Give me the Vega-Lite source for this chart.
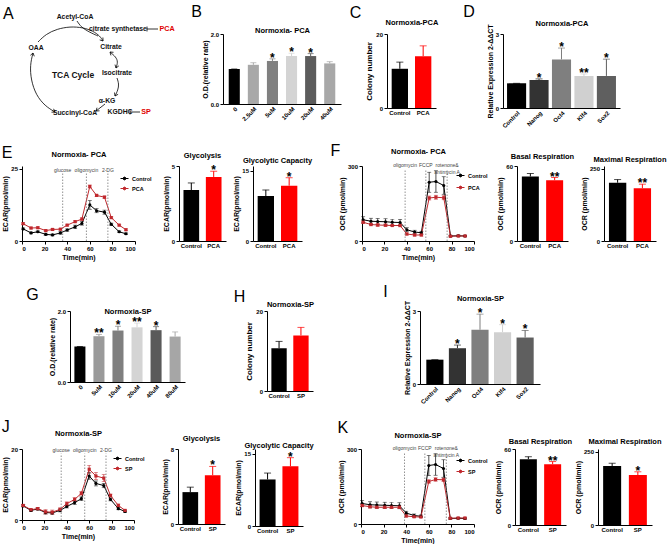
{
"$schema":"https://vega.github.io/schema/vega-lite/v6.json",
"padding":{"left":1,"top":4,"right":3,"bottom":0},
"background":"white",
"config":{
 "font":"Liberation Sans",
 "view":{"stroke":null},
 "axis":{"grid":false,"labelFont":"Liberation Sans","titleFont":"Liberation Sans","labelFontSize":6,"titleFontSize":7,"labelFontWeight":"bold","titleFontWeight":"bold","labelColor":"#000000","titleColor":"#000000","domainColor":"#000000","tickColor":"#000000","tickSize":3,"labelPadding":1.5,"titlePadding":2},
 "title":{"font":"Liberation Sans","fontSize":7.5,"fontWeight":"bold","color":"#000000","offset":6},
 "text":{"font":"Liberation Sans"},
 "legend":{"labelFont":"Liberation Sans"}
},
"spacing":0,
"resolve":{"scale":{"color":"independent"},"legend":{"color":"independent"}},
"vconcat":[
{"spacing":0,"bounds":"flush","resolve":{"scale":{"color":"independent"},"legend":{"color":"independent"}},"hconcat":[
 {"width":160,"height":86,
  "title":{"text":"A","anchor":"start","frame":"group","fontSize":16,"fontWeight":"normal","dx":-19,"offset":0,"dy":7.5},
  "encoding":{"x":{"field":"x","type":"quantitative","scale":{"domain":[22,182]},"axis":null},"y":{"field":"y","type":"quantitative","scale":{"domain":[120,34]},"axis":null}},
  "layer":[
   {"data":{"values":[
    {"p":"a1","i":0,"x":38,"y":42},{"p":"a1","i":1,"x":46,"y":34},{"p":"a1","i":2,"x":57,"y":29},{"p":"a1","i":3,"x":70,"y":26.5},{"p":"a1","i":4,"x":83,"y":27.5},{"p":"a1","i":5,"x":93,"y":31},{"p":"a1","i":6,"x":100,"y":36},{"p":"a1","i":7,"x":103,"y":41},
    {"p":"a2","i":0,"x":77,"y":21},{"p":"a2","i":1,"x":81,"y":27},{"p":"a2","i":2,"x":89,"y":32},{"p":"a2","i":3,"x":98,"y":36},
    {"p":"a3","i":0,"x":110,"y":52},{"p":"a3","i":1,"x":116,"y":57},{"p":"a3","i":2,"x":118,"y":62},{"p":"a3","i":3,"x":116,"y":68},
    {"p":"a4","i":0,"x":117,"y":78},{"p":"a4","i":1,"x":119,"y":84},{"p":"a4","i":2,"x":118,"y":90},{"p":"a4","i":3,"x":115,"y":96},
    {"p":"a5","i":0,"x":105,"y":104},{"p":"a5","i":1,"x":96,"y":111},
    {"p":"a6","i":0,"x":33,"y":53},{"p":"a6","i":1,"x":30,"y":65},{"p":"a6","i":2,"x":31,"y":80},{"p":"a6","i":3,"x":36,"y":95},{"p":"a6","i":4,"x":45,"y":106},{"p":"a6","i":5,"x":55,"y":112}
   ]},
   "mark":{"type":"line","interpolate":"basis","strokeWidth":0.8,"color":"#000000"},
   "encoding":{"detail":{"field":"p"},"order":{"field":"i"}}},
   {"data":{"values":[
    {"p":"h1","i":0,"x":102.9,"y":37.5},{"p":"h1","i":1,"x":103,"y":41},{"p":"h1","i":2,"x":99.7,"y":39.9},
    {"p":"h2","i":0,"x":110.9,"y":55.4},{"p":"h2","i":1,"x":110,"y":52},{"p":"h2","i":2,"x":113.5,"y":52.3},
    {"p":"h3","i":0,"x":118.8,"y":65.9},{"p":"h3","i":1,"x":116,"y":68},{"p":"h3","i":2,"x":115,"y":64.6},
    {"p":"h4","i":0,"x":118.1,"y":94.3},{"p":"h4","i":1,"x":115,"y":96},{"p":"h4","i":2,"x":114.5,"y":92.5},
    {"p":"h5","i":0,"x":99.5,"y":110.8},{"p":"h5","i":1,"x":96,"y":111},{"p":"h5","i":2,"x":97,"y":107.7},
    {"p":"h6","i":0,"x":30.4,"y":55.3},{"p":"h6","i":1,"x":33,"y":53},{"p":"h6","i":2,"x":34.3,"y":56.3},
    {"p":"h7","i":0,"x":53.6,"y":108.8},{"p":"h7","i":1,"x":55,"y":112},{"p":"h7","i":2,"x":51.5,"y":112.2},
    {"p":"i1","i":0,"x":147,"y":29},{"p":"i1","i":1,"x":158,"y":29},
    {"p":"i2","i":0,"x":147,"y":26.5},{"p":"i2","i":1,"x":147,"y":31.5},
    {"p":"i3","i":0,"x":130,"y":112},{"p":"i3","i":1,"x":140,"y":112},
    {"p":"i4","i":0,"x":130,"y":109.5},{"p":"i4","i":1,"x":130,"y":114.5}
   ]},
   "mark":{"type":"line","strokeWidth":0.8,"color":"#000000"},
   "encoding":{"detail":{"field":"p"},"order":{"field":"i"}}},
   {"data":{"values":[
    {"x":75,"y":17,"t":"Acetyl-CoA"},{"x":118,"y":29,"t":"citrate synthetase"},{"x":36,"y":48,"t":"OAA"},{"x":111,"y":47,"t":"Citrate"},{"x":117,"y":73,"t":"Isocitrate"},{"x":107,"y":101,"t":"α-KG"},{"x":75,"y":113,"t":"Succinyl-CoA"},{"x":120,"y":112,"t":"KGDHC"}
   ]},
   "mark":{"type":"text","fontSize":6.8,"fontWeight":"bold","baseline":"middle","color":"#111111"},
   "encoding":{"text":{"field":"t"}}},
   {"data":{"values":[{"x":167,"y":29,"t":"PCA"},{"x":146,"y":112,"t":"SP"}]},
   "mark":{"type":"text","fontSize":7.2,"fontWeight":"bold","baseline":"middle","color":"#e00000"},
   "encoding":{"text":{"field":"t"}}},
   {"data":{"values":[{"x":73,"y":75,"t":"TCA Cycle"}]},
   "mark":{"type":"text","fontSize":8.5,"fontWeight":"bold","baseline":"middle","color":"#111111"},
   "encoding":{"text":{"field":"t"}}}
  ]},
 {"width":41,"height":5,"data":{"values":[{}]},"mark":"text","encoding":{"text":{"value":""}}},
 {"width":118,"height":70,
  "title":{"text":"B","anchor":"start","frame":"bounds","fontSize":16,"fontWeight":"normal","dx":-10,"offset":6},
  "data":{"values":[
   {"g":"0","v":1.0,"hi":1.0,"s":""},{"g":"2.5uM","v":1.12,"hi":1.18,"s":""},{"g":"5uM","v":1.23,"hi":1.29,"s":"*"},{"g":"10uM","v":1.37,"hi":1.45,"s":"*"},{"g":"20uM","v":1.37,"hi":1.44,"s":"*"},{"g":"40uM","v":1.16,"hi":1.21,"s":""}
  ]},
  "resolve":{"axis":{"x":"independent"}},
  "layer":[
   {"mark":"bar","encoding":{
     "x":{"field":"g","type":"nominal","sort":null,"scale":{"paddingInner":0.42,"paddingOuter":0.3},"axis":{"title":null,"labelAngle":-45,"ticks":false}},
     "y":{"field":"v","type":"quantitative","scale":{"domain":[0,2]},"axis":{"values":[0,0.5,1,1.5,2],"format":".1f"},"title":"O.D.(relative rate)"},
     "color":{"field":"g","type":"nominal","sort":null,"scale":{"domain":["0","2.5uM","5uM","10uM","20uM","40uM"],"range":["#000000","#a8a8a8","#808080","#d4d4d4","#5c5c5c","#a8a8a8"]},"legend":null}}},
   {"mark":{"type":"rule","strokeWidth":1},"encoding":{"x":{"field":"g","type":"nominal","sort":null,"axis":null},"y":{"field":"v","type":"quantitative","title":"O.D.(relative rate)"},"y2":{"field":"hi"},"color":{"field":"g","type":"nominal","sort":null,"legend":null}}},
   {"mark":{"type":"tick","thickness":1,"size":6},"encoding":{"x":{"field":"g","type":"nominal","sort":null,"axis":null},"y":{"field":"hi","type":"quantitative","title":"O.D.(relative rate)"},"color":{"field":"g","type":"nominal","sort":null,"legend":null}}},
   {"mark":{"type":"text","fontSize":12,"fontWeight":"bold","baseline":"alphabetic","dy":3},"encoding":{"x":{"field":"g","type":"nominal","sort":null,"axis":{"orient":"top","title":"Normoxia- PCA","labels":false,"ticks":false,"domain":false,"titlePadding":0,"titleFontSize":7.5}},"y":{"field":"hi","type":"quantitative","title":"O.D.(relative rate)"},"text":{"field":"s"}}}
  ]},
 {"width":46,"height":5,"data":{"values":[{}]},"mark":"text","encoding":{"text":{"value":""}}},
 {"width":49,"height":74,
  "title":{"text":"C","anchor":"start","frame":"bounds","fontSize":16,"fontWeight":"normal","dx":-16,"offset":-3},
  "data":{"values":[{"g":"Control","v":10.6,"hi":12.4,"s":""},{"g":"PCA","v":14.0,"hi":16.8,"s":""}]},
  "resolve":{"axis":{"x":"independent"}},
  "layer":[
   {"mark":"bar","encoding":{
     "x":{"field":"g","type":"nominal","sort":null,"scale":{"paddingInner":0.3,"paddingOuter":0.2},"axis":{"title":null,"labelAngle":0,"ticks":false}},
     "y":{"field":"v","type":"quantitative","scale":{"domain":[0,20]},"axis":{"values":[0,5,10,15,20],"titleFontSize":8},"title":"Colony number"},
     "color":{"field":"g","type":"nominal","scale":{"domain":["Control","PCA"],"range":["#000000","#ff0000"]},"legend":null}}},
   {"mark":{"type":"rule","strokeWidth":1},"encoding":{"x":{"field":"g","type":"nominal","sort":null,"axis":null},"y":{"field":"v","type":"quantitative","title":"Colony number"},"y2":{"field":"hi"},"color":{"field":"g","type":"nominal","legend":null}}},
   {"mark":{"type":"tick","thickness":1,"size":7},"encoding":{"x":{"field":"g","type":"nominal","sort":null,"axis":null},"y":{"field":"hi","type":"quantitative","title":"Colony number"},"color":{"field":"g","type":"nominal","legend":null}}},
   {"mark":{"type":"text","fontSize":12,"fontWeight":"bold","baseline":"alphabetic","dy":3},"encoding":{"x":{"field":"g","type":"nominal","sort":null,"axis":{"orient":"top","title":"Normoxia-PCA","labels":false,"ticks":false,"domain":false,"titlePadding":8,"titleFontSize":7.5}},"y":{"field":"hi","type":"quantitative","title":"Colony number"},"text":{"field":"s"}}}
  ]},
 {"width":67,"height":5,"data":{"values":[{}]},"mark":"text","encoding":{"text":{"value":""}}},
 {"width":117,"height":74,
  "title":{"text":"D","anchor":"start","frame":"bounds","fontSize":16,"fontWeight":"normal","dx":-23,"offset":-1},
  "data":{"values":[{"g":"Control","v":1.0,"hi":1.0,"s":""},{"g":"Nanog","v":1.14,"hi":1.18,"s":"*"},{"g":"Oct4","v":1.97,"hi":2.43,"s":"*"},{"g":"Klf4","v":1.3,"hi":1.38,"s":"**"},{"g":"Sox2","v":1.3,"hi":1.98,"s":"*"}]},
  "resolve":{"axis":{"x":"independent"}},
  "layer":[
   {"mark":"bar","encoding":{
     "x":{"field":"g","type":"nominal","sort":null,"scale":{"paddingInner":0.15,"paddingOuter":0.18},"axis":{"title":null,"labelAngle":-45,"ticks":false}},
     "y":{"field":"v","type":"quantitative","scale":{"domain":[0,3]},"axis":{"values":[0,1,2,3]},"title":"Relative Expression 2-ΔΔCT"},
     "color":{"field":"g","type":"nominal","sort":null,"scale":{"domain":["Control","Nanog","Oct4","Klf4","Sox2"],"range":["#000000","#333333","#7f7f7f","#d0d0d0","#5f5f5f"]},"legend":null}}},
   {"mark":{"type":"rule","strokeWidth":1},"encoding":{"x":{"field":"g","type":"nominal","sort":null,"axis":null},"y":{"field":"v","type":"quantitative","title":"Relative Expression 2-ΔΔCT"},"y2":{"field":"hi"},"color":{"field":"g","type":"nominal","sort":null,"legend":null}}},
   {"mark":{"type":"tick","thickness":1,"size":7},"encoding":{"x":{"field":"g","type":"nominal","sort":null,"axis":null},"y":{"field":"hi","type":"quantitative","title":"Relative Expression 2-ΔΔCT"},"color":{"field":"g","type":"nominal","sort":null,"legend":null}}},
   {"mark":{"type":"text","fontSize":12,"fontWeight":"bold","baseline":"alphabetic","dy":3},"encoding":{"x":{"field":"g","type":"nominal","sort":null,"axis":{"orient":"top","title":"Normoxia-PCA","labels":false,"ticks":false,"domain":false,"titlePadding":7,"titleFontSize":7.5}},"y":{"field":"hi","type":"quantitative","title":"Relative Expression 2-ΔΔCT"},"text":{"field":"s"}}}
  ]}
]},
{"width":10,"height":14,"data":{"values":[{}]},"mark":"text","encoding":{"text":{"value":""}}},
{"spacing":0,"bounds":"flush","resolve":{"scale":{"color":"independent"},"legend":{"color":"independent"}},"hconcat":[
 {"width":113,"height":75,
  "title":{"text":"E","anchor":"start","frame":"bounds","fontSize":16,"fontWeight":"normal","offset":0,"dy":10.5},
  "data":{"values":[
   {"t":1,"g":"Control","v":4.2,"lo":3.9,"hi":4.5},{"t":8,"g":"Control","v":2.8,"lo":2.5,"hi":3.1},{"t":14,"g":"Control","v":3.2,"lo":2.9,"hi":3.5},{"t":21,"g":"Control","v":2.3,"lo":1.9,"hi":2.7},{"t":27,"g":"Control","v":2.1,"lo":1.8,"hi":2.4},{"t":34,"g":"Control","v":2.8,"lo":2.4,"hi":3.2},{"t":40,"g":"Control","v":3.8,"lo":3.4,"hi":4.2},{"t":47,"g":"Control","v":4.9,"lo":4.3,"hi":5.5},{"t":53,"g":"Control","v":6.1,"lo":5.5,"hi":6.7},{"t":60,"g":"Control","v":12.5,"lo":11.0,"hi":14.0},{"t":66,"g":"Control","v":10.5,"lo":9.8,"hi":11.2},{"t":73,"g":"Control","v":10.0,"lo":9.3,"hi":10.7},{"t":79,"g":"Control","v":5.8,"lo":5.4,"hi":6.2},{"t":86,"g":"Control","v":3.2,"lo":2.9,"hi":3.5},{"t":92,"g":"Control","v":2.5,"lo":2.2,"hi":2.8},
   {"t":1,"g":"PCA","v":6.0,"lo":5.7,"hi":6.3},{"t":8,"g":"PCA","v":4.5,"lo":4.2,"hi":4.8},{"t":14,"g":"PCA","v":4.6,"lo":4.3,"hi":4.9},{"t":21,"g":"PCA","v":3.6,"lo":3.3,"hi":3.9},{"t":27,"g":"PCA","v":4.0,"lo":3.7,"hi":4.3},{"t":34,"g":"PCA","v":4.1,"lo":3.8,"hi":4.4},{"t":40,"g":"PCA","v":5.5,"lo":5.2,"hi":5.8},{"t":47,"g":"PCA","v":6.7,"lo":6.4,"hi":7.0},{"t":53,"g":"PCA","v":7.6,"lo":7.2,"hi":8.0},{"t":60,"g":"PCA","v":18.9,"lo":18.4,"hi":19.4},{"t":66,"g":"PCA","v":15.8,"lo":15.4,"hi":16.2},{"t":73,"g":"PCA","v":15.2,"lo":14.8,"hi":15.6},{"t":79,"g":"PCA","v":8.1,"lo":7.8,"hi":8.4},{"t":86,"g":"PCA","v":5.5,"lo":5.2,"hi":5.8},{"t":92,"g":"PCA","v":3.9,"lo":3.6,"hi":4.2}
  ]},
  "resolve":{"axis":{"x":"independent"}},
  "layer":[
   {"mark":{"type":"line","strokeWidth":1},"encoding":{"x":{"field":"t","type":"quantitative","scale":{"domain":[0,100]},"axis":{"values":[0,20,40,60,80,100],"title":"Time(min)"}},"y":{"field":"v","type":"quantitative","scale":{"domain":[0,25]},"axis":{"values":[0,5,10,15,20,25]},"title":"ECAR(pmol/min)"},"color":{"field":"g","type":"nominal","scale":{"domain":["Control","PCA"],"range":["#000000","#c0282d"]},"legend":{"orient":"none","legendX":98,"legendY":8,"title":null,"padding":0,"labelFontSize":5.5,"labelFontWeight":"bold","labelColor":"#000000","symbolType":"M-1,0H1M0.35,0A0.35,0.35,0,1,1,-0.35,0A0.35,0.35,0,1,1,0.35,0Z","symbolSize":64,"symbolStrokeWidth":1,"rowPadding":2,"labelOffset":3}}}},
   {"mark":{"type":"rule","strokeWidth":0.7},"encoding":{"x":{"field":"t","type":"quantitative","axis":null},"y":{"field":"lo","type":"quantitative","title":"ECAR(pmol/min)"},"y2":{"field":"hi"},"color":{"field":"g","type":"nominal","legend":null}}},
   {"mark":{"type":"tick","orient":"horizontal","size":4,"thickness":0.7},"encoding":{"x":{"field":"t","type":"quantitative","axis":null},"y":{"field":"hi","type":"quantitative","title":"ECAR(pmol/min)"},"color":{"field":"g","type":"nominal","legend":null}}},
   {"mark":{"type":"tick","orient":"horizontal","size":4,"thickness":0.7},"encoding":{"x":{"field":"t","type":"quantitative","axis":null},"y":{"field":"lo","type":"quantitative","title":"ECAR(pmol/min)"},"color":{"field":"g","type":"nominal","legend":null}}},
   {"transform":[{"filter":"datum.g == 'Control'"}],"mark":{"type":"point","filled":true,"size":10,"opacity":1,"shape":"circle"},"encoding":{"x":{"field":"t","type":"quantitative","axis":null},"y":{"field":"v","type":"quantitative","title":"ECAR(pmol/min)"},"color":{"field":"g","type":"nominal","legend":null}}},
   {"transform":[{"filter":"datum.g != 'Control'"}],"mark":{"type":"point","filled":true,"size":10,"opacity":1,"shape":"square"},"encoding":{"x":{"field":"t","type":"quantitative","axis":null},"y":{"field":"v","type":"quantitative","title":"ECAR(pmol/min)"},"color":{"field":"g","type":"nominal","legend":null}}},
   {"data":{"values":[{"t":36,"lab":"glucose"},{"t":57,"lab":"oligomycin"},{"t":76,"lab":"2-DG"}]},"mark":{"type":"rule","strokeDash":[1.5,1.5],"color":"#777777","strokeWidth":0.8},"encoding":{"x":{"field":"t","type":"quantitative","axis":null},"y":{"datum":0},"y2":{"datum":23.5}}},
   {"data":{"values":[{"t":36,"lab":"glucose"},{"t":57,"lab":"oligomycin"},{"t":76,"lab":"2-DG"}]},"mark":{"type":"text","fontSize":5,"color":"#444444","baseline":"middle"},"encoding":{"x":{"field":"t","type":"quantitative","axis":{"orient":"top","title":"Normoxia- PCA","labels":false,"ticks":false,"domain":false,"titlePadding":7.5,"titleFontSize":7.5}},"y":{"datum":24.6},"text":{"field":"lab"}}}
  ]},
 {"width":44,"height":5,"data":{"values":[{}]},"mark":"text","encoding":{"text":{"value":""}}},
 {"width":47,"height":75,"title":{"text":"Glycolysis","offset":4},
  "data":{"values":[{"g":"Control","v":3.4,"hi":3.87,"s":""},{"g":"PCA","v":4.27,"hi":4.65,"s":"*"}]},
  "encoding":{"x":{"field":"g","type":"nominal","sort":null,"scale":{"paddingInner":0.3,"paddingOuter":0.2},"axis":{"title":null,"labelAngle":0,"ticks":false}}},
  "layer":[
   {"mark":"bar","encoding":{"y":{"field":"v","type":"quantitative","scale":{"domain":[0,5]},"axis":{"values":[0,1,2,3,4,5]},"title":"ECAR(pmol/min)"},"color":{"field":"g","type":"nominal","scale":{"domain":["Control","PCA"],"range":["#000000","#ff0000"]},"legend":null}}},
   {"mark":{"type":"rule","strokeWidth":1},"encoding":{"y":{"field":"v","type":"quantitative","title":"ECAR(pmol/min)"},"y2":{"field":"hi"},"color":{"field":"g","type":"nominal","legend":null}}},
   {"mark":{"type":"tick","thickness":1,"size":7},"encoding":{"y":{"field":"hi","type":"quantitative","title":"ECAR(pmol/min)"},"color":{"field":"g","type":"nominal","legend":null}}},
   {"mark":{"type":"text","fontSize":12,"fontWeight":"bold","baseline":"alphabetic","dy":3},"encoding":{"y":{"field":"hi","type":"quantitative","title":"ECAR(pmol/min)"},"text":{"field":"s"}}}
  ]},
 {"width":27,"height":5,"data":{"values":[{}]},"mark":"text","encoding":{"text":{"value":""}}},
 {"width":49,"height":75,"title":{"text":"Glycolytic Capacity","offset":2},
  "data":{"values":[{"g":"Control","v":9.6,"hi":10.9,"s":""},{"g":"PCA","v":11.8,"hi":13.5,"s":"*"}]},
  "encoding":{"x":{"field":"g","type":"nominal","sort":null,"scale":{"paddingInner":0.3,"paddingOuter":0.2},"axis":{"title":null,"labelAngle":0,"ticks":false}}},
  "layer":[
   {"mark":"bar","encoding":{"y":{"field":"v","type":"quantitative","scale":{"domain":[0,15]},"axis":{"values":[0,5,10,15]},"title":"ECAR(pmol/min)"},"color":{"field":"g","type":"nominal","scale":{"domain":["Control","PCA"],"range":["#000000","#ff0000"]},"legend":null}}},
   {"mark":{"type":"rule","strokeWidth":1},"encoding":{"y":{"field":"v","type":"quantitative","title":"ECAR(pmol/min)"},"y2":{"field":"hi"},"color":{"field":"g","type":"nominal","legend":null}}},
   {"mark":{"type":"tick","thickness":1,"size":7},"encoding":{"y":{"field":"hi","type":"quantitative","title":"ECAR(pmol/min)"},"color":{"field":"g","type":"nominal","legend":null}}},
   {"mark":{"type":"text","fontSize":12,"fontWeight":"bold","baseline":"alphabetic","dy":3},"encoding":{"y":{"field":"hi","type":"quantitative","title":"ECAR(pmol/min)"},"text":{"field":"s"}}}
  ]},
 {"width":60,"height":5,"data":{"values":[{}]},"mark":"text","encoding":{"text":{"value":""}}},
 {"width":112,"height":75,
  "title":{"text":"F","anchor":"start","frame":"bounds","fontSize":16,"fontWeight":"normal","offset":0,"dx":-8,"dy":11.5},
  "data":{"values":[
   {"t":1,"g":"Control","v":85,"lo":73,"hi":97},{"t":8,"g":"Control","v":79,"lo":67,"hi":91},{"t":14,"g":"Control","v":78,"lo":66,"hi":90},{"t":21,"g":"Control","v":77,"lo":65,"hi":89},{"t":27,"g":"Control","v":75,"lo":63,"hi":87},{"t":34,"g":"Control","v":74,"lo":62,"hi":86},{"t":40,"g":"Control","v":45,"lo":37,"hi":53},{"t":47,"g":"Control","v":36,"lo":29,"hi":43},{"t":53,"g":"Control","v":33,"lo":27,"hi":39},{"t":60,"g":"Control","v":235,"lo":195,"hi":275},{"t":66,"g":"Control","v":238,"lo":195,"hi":281},{"t":73,"g":"Control","v":222,"lo":187,"hi":257},{"t":79,"g":"Control","v":20,"lo":17,"hi":23},{"t":86,"g":"Control","v":21,"lo":18,"hi":24},{"t":92,"g":"Control","v":20,"lo":17,"hi":23},
   {"t":1,"g":"PCA","v":75,"lo":70,"hi":80},{"t":8,"g":"PCA","v":66,"lo":61,"hi":71},{"t":14,"g":"PCA","v":64,"lo":59,"hi":69},{"t":21,"g":"PCA","v":63,"lo":58,"hi":68},{"t":27,"g":"PCA","v":62,"lo":57,"hi":67},{"t":34,"g":"PCA","v":62,"lo":57,"hi":67},{"t":40,"g":"PCA","v":28,"lo":24,"hi":32},{"t":47,"g":"PCA","v":24,"lo":20,"hi":28},{"t":53,"g":"PCA","v":24,"lo":20,"hi":28},{"t":60,"g":"PCA","v":172,"lo":164,"hi":180},{"t":66,"g":"PCA","v":175,"lo":167,"hi":183},{"t":73,"g":"PCA","v":173,"lo":165,"hi":181},{"t":79,"g":"PCA","v":19,"lo":16,"hi":22},{"t":86,"g":"PCA","v":20,"lo":17,"hi":23},{"t":92,"g":"PCA","v":20,"lo":17,"hi":23}
  ]},
  "resolve":{"axis":{"x":"independent"}},
  "layer":[
   {"mark":{"type":"line","strokeWidth":1},"encoding":{"x":{"field":"t","type":"quantitative","scale":{"domain":[0,100]},"axis":{"values":[0,20,40,60,80,100],"title":"Time(min)"}},"y":{"field":"v","type":"quantitative","scale":{"domain":[0,300]},"axis":{"values":[0,100,200,300]},"title":"OCR (pmol/min)"},"color":{"field":"g","type":"nominal","scale":{"domain":["Control","PCA"],"range":["#000000","#c0282d"]},"legend":{"orient":"none","legendX":94,"legendY":5,"title":null,"padding":0,"labelFontSize":5.5,"labelFontWeight":"bold","labelColor":"#000000","symbolType":"M-1,0H1M0.35,0A0.35,0.35,0,1,1,-0.35,0A0.35,0.35,0,1,1,0.35,0Z","symbolSize":64,"symbolStrokeWidth":1,"rowPadding":4,"labelOffset":3}}}},
   {"mark":{"type":"rule","strokeWidth":0.7},"encoding":{"x":{"field":"t","type":"quantitative","axis":null},"y":{"field":"lo","type":"quantitative","title":"OCR (pmol/min)"},"y2":{"field":"hi"},"color":{"field":"g","type":"nominal","legend":null}}},
   {"mark":{"type":"tick","orient":"horizontal","size":4,"thickness":0.7},"encoding":{"x":{"field":"t","type":"quantitative","axis":null},"y":{"field":"hi","type":"quantitative","title":"OCR (pmol/min)"},"color":{"field":"g","type":"nominal","legend":null}}},
   {"mark":{"type":"tick","orient":"horizontal","size":4,"thickness":0.7},"encoding":{"x":{"field":"t","type":"quantitative","axis":null},"y":{"field":"lo","type":"quantitative","title":"OCR (pmol/min)"},"color":{"field":"g","type":"nominal","legend":null}}},
   {"transform":[{"filter":"datum.g == 'Control'"}],"mark":{"type":"point","filled":true,"size":10,"opacity":1,"shape":"circle"},"encoding":{"x":{"field":"t","type":"quantitative","axis":null},"y":{"field":"v","type":"quantitative","title":"OCR (pmol/min)"},"color":{"field":"g","type":"nominal","legend":null}}},
   {"transform":[{"filter":"datum.g != 'Control'"}],"mark":{"type":"point","filled":true,"size":10,"opacity":1,"shape":"square"},"encoding":{"x":{"field":"t","type":"quantitative","axis":null},"y":{"field":"v","type":"quantitative","title":"OCR (pmol/min)"},"color":{"field":"g","type":"nominal","legend":null}}},
   {"data":{"values":[{"t":38.5,"lab":"oligomycin"},{"t":57,"lab":"FCCP"},{"t":76,"lab":"rotenone&\nantimycin A"}]},"mark":{"type":"rule","strokeDash":[1.5,1.5],"color":"#777777","strokeWidth":0.8},"encoding":{"x":{"field":"t","type":"quantitative","axis":null},"y":{"datum":0},"y2":{"datum":288}}},
   {"data":{"values":[{"t":38.5,"lab":"oligomycin"},{"t":57,"lab":"FCCP"},{"t":76,"lab":"rotenone&\nantimycin A"}]},"mark":{"type":"text","fontSize":5,"color":"#444444","baseline":"bottom","lineBreak":"\n"},"encoding":{"x":{"field":"t","type":"quantitative","axis":{"orient":"top","title":"Normoxia- PCA","labels":false,"ticks":false,"domain":false,"titlePadding":10.5,"titleFontSize":7.5}},"y":{"datum":294},"text":{"field":"lab"}}}
  ]},
 {"width":43,"height":5,"data":{"values":[{}]},"mark":"text","encoding":{"text":{"value":""}}},
 {"width":51,"height":75,"title":{"text":"Basal Respiration","offset":3},
  "data":{"values":[{"g":"Control","v":51.6,"hi":54,"s":""},{"g":"PCA","v":48.7,"hi":50.8,"s":"**"}]},
  "encoding":{"x":{"field":"g","type":"nominal","sort":null,"scale":{"paddingInner":0.3,"paddingOuter":0.2},"axis":{"title":null,"labelAngle":0,"ticks":false}}},
  "layer":[
   {"mark":"bar","encoding":{"y":{"field":"v","type":"quantitative","scale":{"domain":[0,60]},"axis":{"values":[0,20,40,60]},"title":"OCR (pmol/min)"},"color":{"field":"g","type":"nominal","scale":{"domain":["Control","PCA"],"range":["#000000","#ff0000"]},"legend":null}}},
   {"mark":{"type":"rule","strokeWidth":1},"encoding":{"y":{"field":"v","type":"quantitative","title":"OCR (pmol/min)"},"y2":{"field":"hi"},"color":{"field":"g","type":"nominal","legend":null}}},
   {"mark":{"type":"tick","thickness":1,"size":7},"encoding":{"y":{"field":"hi","type":"quantitative","title":"OCR (pmol/min)"},"color":{"field":"g","type":"nominal","legend":null}}},
   {"mark":{"type":"text","fontSize":12,"fontWeight":"bold","baseline":"alphabetic","dy":3},"encoding":{"y":{"field":"hi","type":"quantitative","title":"OCR (pmol/min)"},"text":{"field":"s"}}}
  ]},
 {"width":36,"height":5,"data":{"values":[{}]},"mark":"text","encoding":{"text":{"value":""}}},
 {"width":52,"height":75,"title":{"text":"Maximal Respiration","offset":2},
  "data":{"values":[{"g":"Control","v":202,"hi":213,"s":""},{"g":"PCA","v":183,"hi":197,"s":"**"}]},
  "encoding":{"x":{"field":"g","type":"nominal","sort":null,"scale":{"paddingInner":0.3,"paddingOuter":0.2},"axis":{"title":null,"labelAngle":0,"ticks":false}}},
  "layer":[
   {"mark":"bar","encoding":{"y":{"field":"v","type":"quantitative","scale":{"domain":[0,250]},"axis":{"values":[0,50,100,150,200,250]},"title":"OCR (pmol/min)"},"color":{"field":"g","type":"nominal","scale":{"domain":["Control","PCA"],"range":["#000000","#ff0000"]},"legend":null}}},
   {"mark":{"type":"rule","strokeWidth":1},"encoding":{"y":{"field":"v","type":"quantitative","title":"OCR (pmol/min)"},"y2":{"field":"hi"},"color":{"field":"g","type":"nominal","legend":null}}},
   {"mark":{"type":"tick","thickness":1,"size":7},"encoding":{"y":{"field":"hi","type":"quantitative","title":"OCR (pmol/min)"},"color":{"field":"g","type":"nominal","legend":null}}},
   {"mark":{"type":"text","fontSize":12,"fontWeight":"bold","baseline":"alphabetic","dy":3},"encoding":{"y":{"field":"hi","type":"quantitative","title":"OCR (pmol/min)"},"text":{"field":"s"}}}
  ]}
]},
{"width":10,"height":23,"data":{"values":[{}]},"mark":"text","encoding":{"text":{"value":""}}},
{"spacing":0,"bounds":"flush","resolve":{"scale":{"color":"independent"},"legend":{"color":"independent"}},"hconcat":[
 {"width":48,"height":5,"data":{"values":[{}]},"mark":"text","encoding":{"text":{"value":""}}},
 {"width":115,"height":71,
  "title":{"text":"G","anchor":"start","frame":"bounds","fontSize":16,"fontWeight":"normal","dx":-22,"offset":4},
  "data":{"values":[{"g":"0","v":1.0,"hi":1.0,"s":""},{"g":"5uM","v":1.29,"hi":1.34,"s":"**"},{"g":"10uM","v":1.45,"hi":1.57,"s":"*"},{"g":"20uM","v":1.54,"hi":1.66,"s":"**"},{"g":"40uM","v":1.46,"hi":1.56,"s":"*"},{"g":"80uM","v":1.28,"hi":1.41,"s":""}]},
  "resolve":{"axis":{"x":"independent"}},
  "layer":[
   {"mark":"bar","encoding":{
     "x":{"field":"g","type":"nominal","sort":null,"scale":{"paddingInner":0.42,"paddingOuter":0.23},"axis":{"title":null,"labelAngle":-45,"ticks":false}},
     "y":{"field":"v","type":"quantitative","scale":{"domain":[0,2]},"axis":{"values":[0,0.5,1,1.5,2],"format":".1f"},"title":"O.D.(relative rate)"},
     "color":{"field":"g","type":"nominal","sort":null,"scale":{"domain":["0","5uM","10uM","20uM","40uM","80uM"],"range":["#000000","#9a9a9a","#7f7f7f","#d4d4d4","#5a5a5a","#a6a6a6"]},"legend":null}}},
   {"mark":{"type":"rule","strokeWidth":1},"encoding":{"x":{"field":"g","type":"nominal","sort":null,"axis":null},"y":{"field":"v","type":"quantitative","title":"O.D.(relative rate)"},"y2":{"field":"hi"},"color":{"field":"g","type":"nominal","sort":null,"legend":null}}},
   {"mark":{"type":"tick","thickness":1,"size":6},"encoding":{"x":{"field":"g","type":"nominal","sort":null,"axis":null},"y":{"field":"hi","type":"quantitative","title":"O.D.(relative rate)"},"color":{"field":"g","type":"nominal","sort":null,"legend":null}}},
   {"mark":{"type":"text","fontSize":12,"fontWeight":"bold","baseline":"alphabetic","dy":3},"encoding":{"x":{"field":"g","type":"nominal","sort":null,"axis":{"orient":"top","title":"Normoxia-SP","labels":false,"ticks":false,"domain":false,"titlePadding":-4,"titleFontSize":7.5}},"y":{"field":"hi","type":"quantitative","title":"O.D.(relative rate)"},"text":{"field":"s"}}}
  ]},
 {"width":82,"height":5,"data":{"values":[{}]},"mark":"text","encoding":{"text":{"value":""}}},
 {"width":46,"height":80,
  "title":{"text":"H","anchor":"start","frame":"bounds","fontSize":16,"fontWeight":"normal","dx":-12,"offset":-4.5},
  "data":{"values":[{"g":"Control","v":10.7,"hi":12.4,"s":""},{"g":"SP","v":13.9,"hi":15.9,"s":""}]},
  "resolve":{"axis":{"x":"independent"}},
  "layer":[
   {"mark":"bar","encoding":{
     "x":{"field":"g","type":"nominal","sort":null,"scale":{"paddingInner":0.3,"paddingOuter":0.2},"axis":{"title":null,"labelAngle":0,"ticks":false}},
     "y":{"field":"v","type":"quantitative","scale":{"domain":[0,20]},"axis":{"values":[0,5,10,15,20],"titleFontSize":8},"title":"Colony number"},
     "color":{"field":"g","type":"nominal","scale":{"domain":["Control","SP"],"range":["#000000","#ff0000"]},"legend":null}}},
   {"mark":{"type":"rule","strokeWidth":1},"encoding":{"x":{"field":"g","type":"nominal","sort":null,"axis":null},"y":{"field":"v","type":"quantitative","title":"Colony number"},"y2":{"field":"hi"},"color":{"field":"g","type":"nominal","legend":null}}},
   {"mark":{"type":"tick","thickness":1,"size":7},"encoding":{"x":{"field":"g","type":"nominal","sort":null,"axis":null},"y":{"field":"hi","type":"quantitative","title":"Colony number"},"color":{"field":"g","type":"nominal","legend":null}}},
   {"mark":{"type":"text","fontSize":12,"fontWeight":"bold","baseline":"alphabetic","dy":3},"encoding":{"x":{"field":"g","type":"nominal","sort":null,"axis":{"orient":"top","title":"Normoxia-SP","labels":false,"ticks":false,"domain":false,"titlePadding":2.5,"titleFontSize":7.5}},"y":{"field":"hi","type":"quantitative","title":"Colony number"},"text":{"field":"s"}}}
  ]},
 {"width":107,"height":5,"data":{"values":[{}]},"mark":"text","encoding":{"text":{"value":""}}},
 {"width":120,"height":73,
  "title":{"text":"I","anchor":"start","frame":"bounds","fontSize":16,"fontWeight":"normal","dx":-20,"offset":-5.5},
  "data":{"values":[{"g":"Control","v":1.0,"hi":1.0,"s":""},{"g":"Nanog","v":1.47,"hi":1.6,"s":"*"},{"g":"Oct4","v":2.23,"hi":2.87,"s":"*"},{"g":"Klf4","v":2.13,"hi":2.44,"s":"*"},{"g":"Sox2","v":1.91,"hi":2.2,"s":"*"}]},
  "resolve":{"axis":{"x":"independent"}},
  "layer":[
   {"mark":"bar","encoding":{
     "x":{"field":"g","type":"nominal","sort":null,"scale":{"paddingInner":0.24,"paddingOuter":0.28},"axis":{"title":null,"labelAngle":-45,"ticks":false}},
     "y":{"field":"v","type":"quantitative","scale":{"domain":[0,3]},"axis":{"values":[0,1,2,3]},"title":"Relative Expression 2-ΔΔCT"},
     "color":{"field":"g","type":"nominal","sort":null,"scale":{"domain":["Control","Nanog","Oct4","Klf4","Sox2"],"range":["#000000","#333333","#7f7f7f","#d0d0d0","#5f5f5f"]},"legend":null}}},
   {"mark":{"type":"rule","strokeWidth":1},"encoding":{"x":{"field":"g","type":"nominal","sort":null,"axis":null},"y":{"field":"v","type":"quantitative","title":"Relative Expression 2-ΔΔCT"},"y2":{"field":"hi"},"color":{"field":"g","type":"nominal","sort":null,"legend":null}}},
   {"mark":{"type":"tick","thickness":1,"size":7},"encoding":{"x":{"field":"g","type":"nominal","sort":null,"axis":null},"y":{"field":"hi","type":"quantitative","title":"Relative Expression 2-ΔΔCT"},"color":{"field":"g","type":"nominal","sort":null,"legend":null}}},
   {"mark":{"type":"text","fontSize":12,"fontWeight":"bold","baseline":"alphabetic","dy":3},"encoding":{"x":{"field":"g","type":"nominal","sort":null,"axis":{"orient":"top","title":"Normoxia-SP","labels":false,"ticks":false,"domain":false,"titlePadding":8.5,"titleFontSize":7.5}},"y":{"field":"hi","type":"quantitative","title":"Relative Expression 2-ΔΔCT"},"text":{"field":"s"}}}
  ]}
]},
{"width":10,"height":14,"data":{"values":[{}]},"mark":"text","encoding":{"text":{"value":""}}},
{"spacing":0,"bounds":"flush","resolve":{"scale":{"color":"independent"},"legend":{"color":"independent"}},"hconcat":[
 {"width":112,"height":71,
  "title":{"text":"J","anchor":"start","frame":"bounds","fontSize":16,"fontWeight":"normal","offset":0,"dy":5.5},
  "data":{"values":[
   {"t":1,"g":"Control","v":4.0,"lo":3.7,"hi":4.3},{"t":8,"g":"Control","v":2.7,"lo":2.4,"hi":3.0},{"t":14,"g":"Control","v":3.1,"lo":2.8,"hi":3.4},{"t":21,"g":"Control","v":2.1,"lo":1.7,"hi":2.5},{"t":27,"g":"Control","v":2.0,"lo":1.7,"hi":2.3},{"t":34,"g":"Control","v":2.7,"lo":2.3,"hi":3.1},{"t":40,"g":"Control","v":3.8,"lo":3.4,"hi":4.2},{"t":47,"g":"Control","v":4.9,"lo":4.4,"hi":5.4},{"t":53,"g":"Control","v":6.0,"lo":5.5,"hi":6.5},{"t":60,"g":"Control","v":12.4,"lo":11.5,"hi":13.3},{"t":66,"g":"Control","v":10.3,"lo":9.6,"hi":11.0},{"t":73,"g":"Control","v":9.7,"lo":9.1,"hi":10.3},{"t":79,"g":"Control","v":5.8,"lo":5.4,"hi":6.2},{"t":86,"g":"Control","v":3.2,"lo":2.9,"hi":3.5},{"t":92,"g":"Control","v":2.4,"lo":2.1,"hi":2.7},
   {"t":1,"g":"SP","v":4.1,"lo":3.8,"hi":4.4},{"t":8,"g":"SP","v":2.9,"lo":2.6,"hi":3.2},{"t":14,"g":"SP","v":3.2,"lo":2.9,"hi":3.5},{"t":21,"g":"SP","v":2.3,"lo":1.7,"hi":2.9},{"t":27,"g":"SP","v":2.2,"lo":1.6,"hi":2.8},{"t":34,"g":"SP","v":3.0,"lo":2.6,"hi":3.4},{"t":40,"g":"SP","v":4.6,"lo":4.1,"hi":5.1},{"t":47,"g":"SP","v":5.8,"lo":5.3,"hi":6.3},{"t":53,"g":"SP","v":7.5,"lo":7.0,"hi":8.0},{"t":60,"g":"SP","v":14.3,"lo":13.2,"hi":15.4},{"t":66,"g":"SP","v":12.4,"lo":11.4,"hi":13.4},{"t":73,"g":"SP","v":11.8,"lo":10.8,"hi":12.8},{"t":79,"g":"SP","v":6.9,"lo":6.5,"hi":7.3},{"t":86,"g":"SP","v":4.1,"lo":3.7,"hi":4.5},{"t":92,"g":"SP","v":2.7,"lo":2.4,"hi":3.0}
  ]},
  "resolve":{"axis":{"x":"independent"}},
  "layer":[
   {"mark":{"type":"line","strokeWidth":1},"encoding":{"x":{"field":"t","type":"quantitative","scale":{"domain":[0,100]},"axis":{"values":[0,20,40,60,80,100],"title":"Time(min)"}},"y":{"field":"v","type":"quantitative","scale":{"domain":[0,20]},"axis":{"values":[0,5,10,15,20]},"title":"ECAR(pmol/min)"},"color":{"field":"g","type":"nominal","scale":{"domain":["Control","SP"],"range":["#000000","#c0282d"]},"legend":{"orient":"none","legendX":91,"legendY":5,"title":null,"padding":0,"labelFontSize":5.5,"labelFontWeight":"bold","labelColor":"#000000","symbolType":"M-1,0H1M0.35,0A0.35,0.35,0,1,1,-0.35,0A0.35,0.35,0,1,1,0.35,0Z","symbolSize":64,"symbolStrokeWidth":1,"rowPadding":2,"labelOffset":3}}}},
   {"mark":{"type":"rule","strokeWidth":0.7},"encoding":{"x":{"field":"t","type":"quantitative","axis":null},"y":{"field":"lo","type":"quantitative","title":"ECAR(pmol/min)"},"y2":{"field":"hi"},"color":{"field":"g","type":"nominal","legend":null}}},
   {"mark":{"type":"tick","orient":"horizontal","size":4,"thickness":0.7},"encoding":{"x":{"field":"t","type":"quantitative","axis":null},"y":{"field":"hi","type":"quantitative","title":"ECAR(pmol/min)"},"color":{"field":"g","type":"nominal","legend":null}}},
   {"mark":{"type":"tick","orient":"horizontal","size":4,"thickness":0.7},"encoding":{"x":{"field":"t","type":"quantitative","axis":null},"y":{"field":"lo","type":"quantitative","title":"ECAR(pmol/min)"},"color":{"field":"g","type":"nominal","legend":null}}},
   {"transform":[{"filter":"datum.g == 'Control'"}],"mark":{"type":"point","filled":true,"size":10,"opacity":1,"shape":"circle"},"encoding":{"x":{"field":"t","type":"quantitative","axis":null},"y":{"field":"v","type":"quantitative","title":"ECAR(pmol/min)"},"color":{"field":"g","type":"nominal","legend":null}}},
   {"transform":[{"filter":"datum.g != 'Control'"}],"mark":{"type":"point","filled":true,"size":10,"opacity":1,"shape":"square"},"encoding":{"x":{"field":"t","type":"quantitative","axis":null},"y":{"field":"v","type":"quantitative","title":"ECAR(pmol/min)"},"color":{"field":"g","type":"nominal","legend":null}}},
   {"data":{"values":[{"t":35,"lab":"glucose"},{"t":56,"lab":"oligomycin"},{"t":75,"lab":"2-DG"}]},"mark":{"type":"rule","strokeDash":[1.5,1.5],"color":"#777777","strokeWidth":0.8},"encoding":{"x":{"field":"t","type":"quantitative","axis":null},"y":{"datum":0},"y2":{"datum":18.7}}},
   {"data":{"values":[{"t":35,"lab":"glucose"},{"t":56,"lab":"oligomycin"},{"t":75,"lab":"2-DG"}]},"mark":{"type":"text","fontSize":5,"color":"#444444","baseline":"middle"},"encoding":{"x":{"field":"t","type":"quantitative","axis":{"orient":"top","title":"Normoxia-SP","labels":false,"ticks":false,"domain":false,"titlePadding":11.5,"titleFontSize":7.5}},"y":{"datum":19.6},"text":{"field":"lab"}}}
  ]},
 {"width":44,"height":5,"data":{"values":[{}]},"mark":"text","encoding":{"text":{"value":""}}},
 {"width":47,"height":75,"title":{"text":"Glycolysis","offset":4},
  "data":{"values":[{"g":"Control","v":3.4,"hi":3.93,"s":""},{"g":"SP","v":5.2,"hi":6.14,"s":"*"}]},
  "encoding":{"x":{"field":"g","type":"nominal","sort":null,"scale":{"paddingInner":0.3,"paddingOuter":0.2},"axis":{"title":null,"labelAngle":0,"ticks":false}}},
  "layer":[
   {"mark":"bar","encoding":{"y":{"field":"v","type":"quantitative","scale":{"domain":[0,8]},"axis":{"values":[0,2,4,6,8]},"title":"ECAR(pmol/min)"},"color":{"field":"g","type":"nominal","scale":{"domain":["Control","SP"],"range":["#000000","#ff0000"]},"legend":null}}},
   {"mark":{"type":"rule","strokeWidth":1},"encoding":{"y":{"field":"v","type":"quantitative","title":"ECAR(pmol/min)"},"y2":{"field":"hi"},"color":{"field":"g","type":"nominal","legend":null}}},
   {"mark":{"type":"tick","thickness":1,"size":7},"encoding":{"y":{"field":"hi","type":"quantitative","title":"ECAR(pmol/min)"},"color":{"field":"g","type":"nominal","legend":null}}},
   {"mark":{"type":"text","fontSize":12,"fontWeight":"bold","baseline":"alphabetic","dy":3},"encoding":{"y":{"field":"hi","type":"quantitative","title":"ECAR(pmol/min)"},"text":{"field":"s"}}}
  ]},
 {"width":30,"height":5,"data":{"values":[{}]},"mark":"text","encoding":{"text":{"value":""}}},
 {"width":48,"height":77,"title":{"text":"Glycolytic Capacity","offset":0},
  "data":{"values":[{"g":"Control","v":9.67,"hi":11.0,"s":""},{"g":"SP","v":12.4,"hi":14.2,"s":"*"}]},
  "encoding":{"x":{"field":"g","type":"nominal","sort":null,"scale":{"paddingInner":0.3,"paddingOuter":0.2},"axis":{"title":null,"labelAngle":0,"ticks":false}}},
  "layer":[
   {"mark":"bar","encoding":{"y":{"field":"v","type":"quantitative","scale":{"domain":[0,15]},"axis":{"values":[0,5,10,15]},"title":"ECAR(pmol/min)"},"color":{"field":"g","type":"nominal","scale":{"domain":["Control","SP"],"range":["#000000","#ff0000"]},"legend":null}}},
   {"mark":{"type":"rule","strokeWidth":1},"encoding":{"y":{"field":"v","type":"quantitative","title":"ECAR(pmol/min)"},"y2":{"field":"hi"},"color":{"field":"g","type":"nominal","legend":null}}},
   {"mark":{"type":"tick","thickness":1,"size":7},"encoding":{"y":{"field":"hi","type":"quantitative","title":"ECAR(pmol/min)"},"color":{"field":"g","type":"nominal","legend":null}}},
   {"mark":{"type":"text","fontSize":12,"fontWeight":"bold","baseline":"alphabetic","dy":3},"encoding":{"y":{"field":"hi","type":"quantitative","title":"ECAR(pmol/min)"},"text":{"field":"s"}}}
  ]},
 {"width":58,"height":5,"data":{"values":[{}]},"mark":"text","encoding":{"text":{"value":""}}},
 {"width":113,"height":75,
  "title":{"text":"K","anchor":"start","frame":"bounds","fontSize":16,"fontWeight":"normal","offset":0,"dy":4.5},
  "data":{"values":[
   {"t":1,"g":"Control","v":82,"lo":70,"hi":94},{"t":8,"g":"Control","v":77,"lo":65,"hi":89},{"t":14,"g":"Control","v":76,"lo":64,"hi":88},{"t":21,"g":"Control","v":75,"lo":63,"hi":87},{"t":27,"g":"Control","v":74,"lo":62,"hi":86},{"t":34,"g":"Control","v":73,"lo":61,"hi":85},{"t":40,"g":"Control","v":44,"lo":37,"hi":51},{"t":47,"g":"Control","v":34,"lo":28,"hi":40},{"t":53,"g":"Control","v":31,"lo":26,"hi":36},{"t":60,"g":"Control","v":234,"lo":194,"hi":274},{"t":66,"g":"Control","v":238,"lo":195,"hi":281},{"t":73,"g":"Control","v":222,"lo":187,"hi":257},{"t":79,"g":"Control","v":22,"lo":19,"hi":25},{"t":86,"g":"Control","v":23,"lo":20,"hi":26},{"t":92,"g":"Control","v":22,"lo":19,"hi":25},
   {"t":1,"g":"SP","v":74,"lo":69,"hi":79},{"t":8,"g":"SP","v":69,"lo":64,"hi":74},{"t":14,"g":"SP","v":67,"lo":62,"hi":72},{"t":21,"g":"SP","v":67,"lo":62,"hi":72},{"t":27,"g":"SP","v":67,"lo":62,"hi":72},{"t":34,"g":"SP","v":67,"lo":62,"hi":72},{"t":40,"g":"SP","v":32,"lo":28,"hi":36},{"t":47,"g":"SP","v":29,"lo":26,"hi":32},{"t":53,"g":"SP","v":28,"lo":25,"hi":31},{"t":60,"g":"SP","v":170,"lo":163,"hi":177},{"t":66,"g":"SP","v":178,"lo":171,"hi":185},{"t":73,"g":"SP","v":177,"lo":170,"hi":184},{"t":79,"g":"SP","v":23,"lo":20,"hi":26},{"t":86,"g":"SP","v":24,"lo":21,"hi":27},{"t":92,"g":"SP","v":24,"lo":21,"hi":27}
  ]},
  "resolve":{"axis":{"x":"independent"}},
  "layer":[
   {"mark":{"type":"line","strokeWidth":1},"encoding":{"x":{"field":"t","type":"quantitative","scale":{"domain":[0,100]},"axis":{"values":[0,20,40,60,80,100],"title":"Time(min)"}},"y":{"field":"v","type":"quantitative","scale":{"domain":[0,300]},"axis":{"values":[0,100,200,300]},"title":"OCR (pmol/min)"},"color":{"field":"g","type":"nominal","scale":{"domain":["Control","SP"],"range":["#000000","#c0282d"]},"legend":{"orient":"none","legendX":95,"legendY":7,"title":null,"padding":0,"labelFontSize":5.5,"labelFontWeight":"bold","labelColor":"#000000","symbolType":"M-1,0H1M0.35,0A0.35,0.35,0,1,1,-0.35,0A0.35,0.35,0,1,1,0.35,0Z","symbolSize":64,"symbolStrokeWidth":1,"rowPadding":3,"labelOffset":3}}}},
   {"mark":{"type":"rule","strokeWidth":0.7},"encoding":{"x":{"field":"t","type":"quantitative","axis":null},"y":{"field":"lo","type":"quantitative","title":"OCR (pmol/min)"},"y2":{"field":"hi"},"color":{"field":"g","type":"nominal","legend":null}}},
   {"mark":{"type":"tick","orient":"horizontal","size":4,"thickness":0.7},"encoding":{"x":{"field":"t","type":"quantitative","axis":null},"y":{"field":"hi","type":"quantitative","title":"OCR (pmol/min)"},"color":{"field":"g","type":"nominal","legend":null}}},
   {"mark":{"type":"tick","orient":"horizontal","size":4,"thickness":0.7},"encoding":{"x":{"field":"t","type":"quantitative","axis":null},"y":{"field":"lo","type":"quantitative","title":"OCR (pmol/min)"},"color":{"field":"g","type":"nominal","legend":null}}},
   {"transform":[{"filter":"datum.g == 'Control'"}],"mark":{"type":"point","filled":true,"size":10,"opacity":1,"shape":"circle"},"encoding":{"x":{"field":"t","type":"quantitative","axis":null},"y":{"field":"v","type":"quantitative","title":"OCR (pmol/min)"},"color":{"field":"g","type":"nominal","legend":null}}},
   {"transform":[{"filter":"datum.g != 'Control'"}],"mark":{"type":"point","filled":true,"size":10,"opacity":1,"shape":"square"},"encoding":{"x":{"field":"t","type":"quantitative","axis":null},"y":{"field":"v","type":"quantitative","title":"OCR (pmol/min)"},"color":{"field":"g","type":"nominal","legend":null}}},
   {"data":{"values":[{"t":38.5,"lab":"oligomycin"},{"t":56.5,"lab":"FCCP"},{"t":75.5,"lab":"rotenone&\nantimycin A"}]},"mark":{"type":"rule","strokeDash":[1.5,1.5],"color":"#777777","strokeWidth":0.8},"encoding":{"x":{"field":"t","type":"quantitative","axis":null},"y":{"datum":0},"y2":{"datum":288}}},
   {"data":{"values":[{"t":38.5,"lab":"oligomycin"},{"t":56.5,"lab":"FCCP"},{"t":75.5,"lab":"rotenone&\nantimycin A"}]},"mark":{"type":"text","fontSize":5,"color":"#444444","baseline":"bottom","lineBreak":"\n"},"encoding":{"x":{"field":"t","type":"quantitative","axis":{"orient":"top","title":"Normoxia-SP","labels":false,"ticks":false,"domain":false,"titlePadding":9.5,"titleFontSize":7.5}},"y":{"datum":294},"text":{"field":"lab"}}}
  ]},
 {"width":41,"height":5,"data":{"values":[{}]},"mark":"text","encoding":{"text":{"value":""}}},
 {"width":51,"height":76,"title":{"text":"Basal Respiration","offset":1},
  "data":{"values":[{"g":"Control","v":52,"hi":53.9,"s":""},{"g":"SP","v":48,"hi":50.1,"s":"**"}]},
  "encoding":{"x":{"field":"g","type":"nominal","sort":null,"scale":{"paddingInner":0.3,"paddingOuter":0.2},"axis":{"title":null,"labelAngle":0,"ticks":false}}},
  "layer":[
   {"mark":"bar","encoding":{"y":{"field":"v","type":"quantitative","scale":{"domain":[0,60]},"axis":{"values":[0,20,40,60]},"title":"OCR (pmol/min)"},"color":{"field":"g","type":"nominal","scale":{"domain":["Control","SP"],"range":["#000000","#ff0000"]},"legend":null}}},
   {"mark":{"type":"rule","strokeWidth":1},"encoding":{"y":{"field":"v","type":"quantitative","title":"OCR (pmol/min)"},"y2":{"field":"hi"},"color":{"field":"g","type":"nominal","legend":null}}},
   {"mark":{"type":"tick","thickness":1,"size":7},"encoding":{"y":{"field":"hi","type":"quantitative","title":"OCR (pmol/min)"},"color":{"field":"g","type":"nominal","legend":null}}},
   {"mark":{"type":"text","fontSize":12,"fontWeight":"bold","baseline":"alphabetic","dy":3},"encoding":{"y":{"field":"hi","type":"quantitative","title":"OCR (pmol/min)"},"text":{"field":"s"}}}
  ]},
 {"width":32,"height":5,"data":{"values":[{}]},"mark":"text","encoding":{"text":{"value":""}}},
 {"width":54,"height":76,"title":{"text":"Maximal Respiration","offset":3},
  "data":{"values":[{"g":"Control","v":202,"hi":211,"s":""},{"g":"SP","v":171,"hi":182,"s":"*"}]},
  "encoding":{"x":{"field":"g","type":"nominal","sort":null,"scale":{"paddingInner":0.3,"paddingOuter":0.2},"axis":{"title":null,"labelAngle":0,"ticks":false}}},
  "layer":[
   {"mark":"bar","encoding":{"y":{"field":"v","type":"quantitative","scale":{"domain":[0,250]},"axis":{"values":[0,50,100,150,200,250]},"title":"OCR (pmol/min)"},"color":{"field":"g","type":"nominal","scale":{"domain":["Control","SP"],"range":["#000000","#ff0000"]},"legend":null}}},
   {"mark":{"type":"rule","strokeWidth":1},"encoding":{"y":{"field":"v","type":"quantitative","title":"OCR (pmol/min)"},"y2":{"field":"hi"},"color":{"field":"g","type":"nominal","legend":null}}},
   {"mark":{"type":"tick","thickness":1,"size":7},"encoding":{"y":{"field":"hi","type":"quantitative","title":"OCR (pmol/min)"},"color":{"field":"g","type":"nominal","legend":null}}},
   {"mark":{"type":"text","fontSize":12,"fontWeight":"bold","baseline":"alphabetic","dy":3},"encoding":{"y":{"field":"hi","type":"quantitative","title":"OCR (pmol/min)"},"text":{"field":"s"}}}
  ]}
]}
]
}
